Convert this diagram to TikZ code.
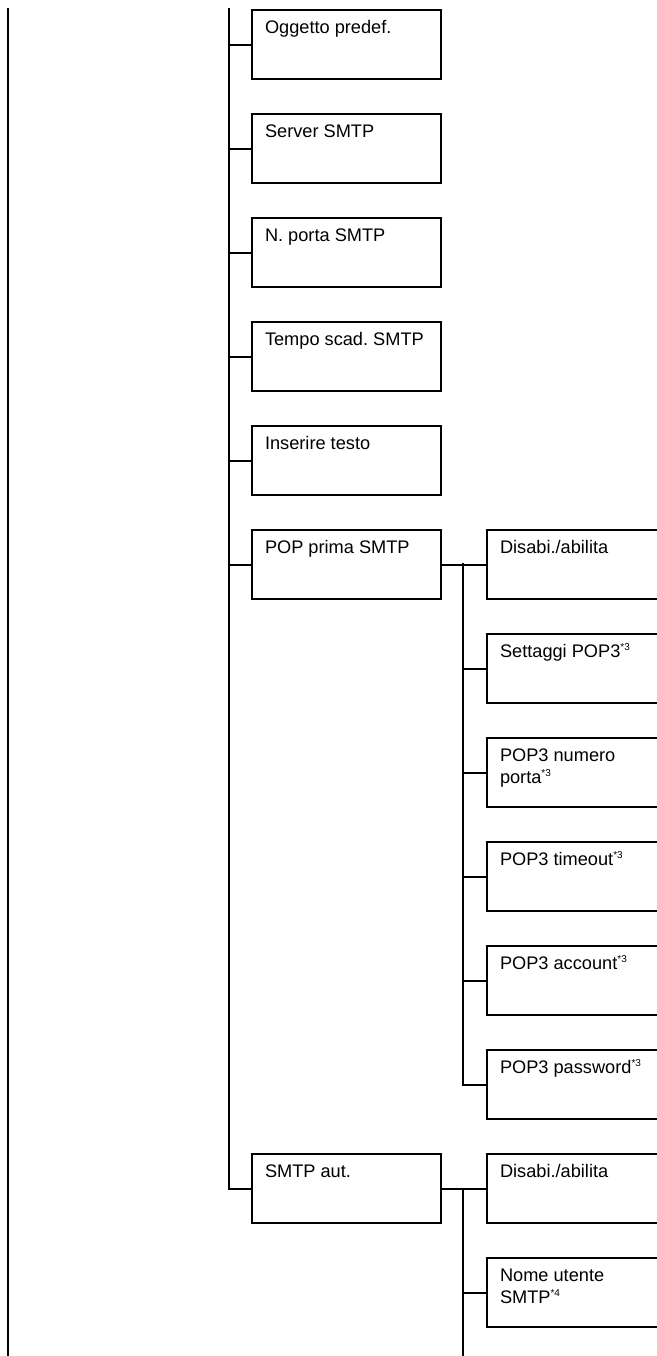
\documentclass[tikz,border=0pt]{standalone}
\usepackage{fontspec}
\setmainfont{Liberation Sans}
\frenchspacing
\newcommand{\nota}[1]{\raisebox{3.3pt}{\fontsize{5}{5}\selectfont *#1}}
\newcommand{\etiq}[1]{\parbox[t]{81.5pt}{\fontsize{9.1pt}{11pt}\selectfont #1}}

\begin{document}
\begin{tikzpicture}[x=0.5pt, y=-0.5pt,
    box/.style={draw, line width=1pt, anchor=north west, inner xsep=6.5pt, inner ysep=5pt,
        text height=6.6pt, text depth=17.9pt},
    rama/.style={line width=1pt}
]

% Area del dibujo
\useasboundingbox (0,0) rectangle (657,1356);
\clip (0,0) rectangle (657,1356);

% Columna central
\node[box] (oggetto) at (251,9) {\etiq{Oggetto predef.}};
\node[box] (server) at (251,113) {\etiq{Server SMTP}};
\node[box] (porta) at (251,217) {\etiq{N. porta SMTP}};
\node[box] (tempo) at (251,321) {\etiq{Tempo scad. SMTP}};
\node[box] (testo) at (251,425) {\etiq{Inserire testo}};
\node[box] (pop) at (251,529) {\etiq{POP prima SMTP}};
\node[box] (smtp) at (251,1153) {\etiq{SMTP aut.}};

% Nodos de POP prima SMTP
\node[box] (popdis) at (486,529) {\etiq{Disabi./abilita}};
\node[box] (popset) at (486,633) {\etiq{Settaggi POP3\nota{3}}};
\node[box] (popnum) at (486,737) {\etiq{POP3 numero\\porta\nota{3}}};
\node[box] (poptime) at (486,841) {\etiq{POP3 timeout\nota{3}}};
\node[box] (popacc) at (486,945) {\etiq{POP3 account\nota{3}}};
\node[box] (poppwd) at (486,1049) {\etiq{POP3 password\nota{3}}};

% Nodos de SMTP aut.
\node[box] (smtpdis) at (486,1153) {\etiq{Disabi./abilita}};
\node[box] (smtpuser) at (486,1257) {\etiq{Nome utente\\SMTP\nota{4}}};

% Puntos de las lineas verticales
\coordinate (izq) at (8,8);
\coordinate (izqfin) at (8,1360);
\coordinate (centro) at (229,8);
\coordinate (popj) at (463,563);
\coordinate (smtpj) at (463,1188);
\coordinate (smtpfin) at (463,1360);

% Lineas
\draw[rama] (izq) -- (izqfin);
\draw[rama] (centro) |- (smtp.west);
\foreach \n in {oggetto,server,porta,tempo,testo,pop}
  \draw[rama] (centro |- \n.west) -- (\n.west);

\draw[rama] (pop.east) -- (popdis.west);
\draw[rama] (popj) |- (poppwd.west);
\foreach \n in {popset,popnum,poptime,popacc}
  \draw[rama] (popj |- \n.west) -- (\n.west);

\draw[rama] (smtp.east) -- (smtpdis.west);
\draw[rama] (smtpj) -- (smtpfin);
\draw[rama] (smtpj |- smtpuser.west) -- (smtpuser.west);
% \draw[rama] (izq) -- (centro);

\end{tikzpicture}
\end{document}
